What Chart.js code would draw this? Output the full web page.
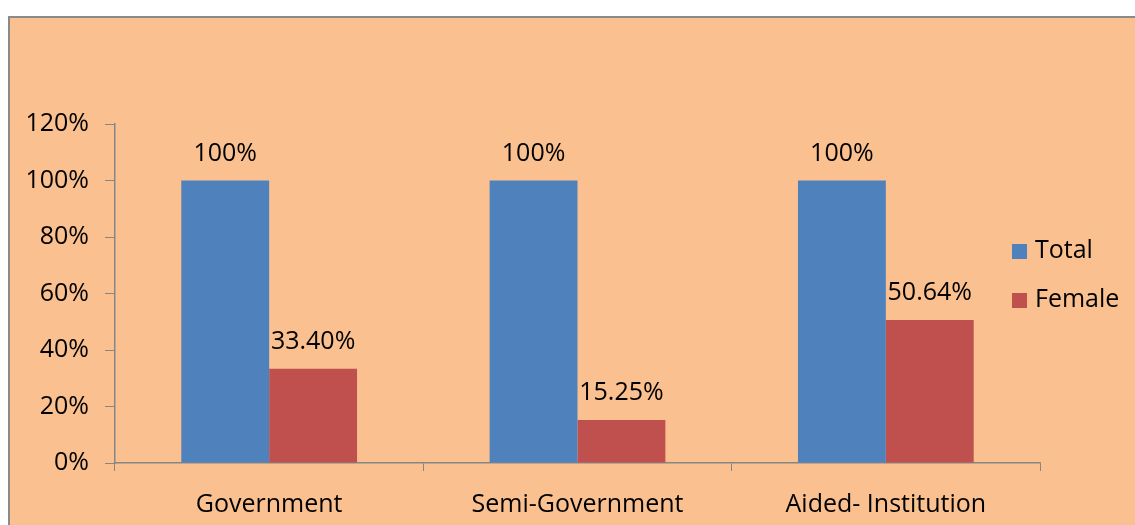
<!DOCTYPE html>
<html>
<head>
<meta charset="utf-8">
<script src="https://cdn.jsdelivr.net/npm/chart.js@4/dist/chart.umd.min.js"></script>
<style>
  body { margin: 0; background: #fff; width: 1135px; height: 525px; overflow: hidden; position: relative; }
  #frame { position: absolute; left: 8px; top: 16px; width: 1140px; height: 520px; background: #FAC090; border-left: 2px solid #8a8a8a; border-top: 2px solid #8a8a8a; }
  #wrap { position: absolute; left: 0; top: 0; width: 1135px; height: 525px; }
</style>
</head>
<body>
<div id="frame"></div>
<div id="wrap"><canvas id="chart"></canvas></div>
<script>
const categories = ['Government', 'Semi-Government', 'Aided- Institution'];
const totalValues = [100, 100, 100];
const femaleValues = [33.40, 15.25, 50.64];
const totalLabels = ['100%', '100%', '100%'];
const femaleLabels = ['33.40%', '15.25%', '50.64%'];
const yTicks = [0, 20, 40, 60, 80, 100, 120];

const FONT = '"Open Sans", sans-serif';
const FONT_SIZE = 25;
const axisColor = '#868686';
const textColor = '#000';

// value labels above each bar
const barLabels = {
    id: 'barLabels',
    afterDatasetsDraw(chart) {
        const ctx = chart.ctx;
        ctx.save();
        ctx.font = FONT_SIZE + 'px ' + FONT;
        ctx.fillStyle = textColor;
        ctx.textAlign = 'center';
        ctx.textBaseline = 'middle';
        chart.data.datasets.forEach((ds, i) => {
            chart.getDatasetMeta(i).data.forEach((bar, j) => {
                ctx.fillText(ds.valueLabels[j], bar.x, bar.y - 27);
            });
        });
        ctx.restore();
    }
};

// legend drawn over the right side like the original
const sideLegend = {
    id: 'sideLegend',
    afterDraw(chart) {
        const ctx = chart.ctx;
        ctx.save();
        ctx.font = FONT_SIZE + 'px ' + FONT;
        ctx.textBaseline = 'middle';
        chart.data.datasets.forEach((ds, i) => {
            const y = 251 + i * 49;
            ctx.fillStyle = ds.backgroundColor;
            ctx.fillRect(1012, y - 7, 15, 15);
            ctx.fillStyle = textColor;
            ctx.fillText(ds.label, 1035, y);
        });
        ctx.restore();
    }
};

new Chart(document.getElementById('chart'), {
    type: 'bar',
    data: {
        labels: categories,
        datasets: [
            { label: 'Total', data: totalValues, valueLabels: totalLabels, backgroundColor: '#4F81BD' },
            { label: 'Female', data: femaleValues, valueLabels: femaleLabels, backgroundColor: '#C0504D' }
        ]
    },
    options: {
        responsive: true,
        maintainAspectRatio: false,
        animation: false,
        layout: { padding: { left: 0, right: 95, top: 124, bottom: 0 } },
        datasets: { bar: { categoryPercentage: 0.57, barPercentage: 1.0 } },
        plugins: { legend: { display: false }, tooltip: { enabled: false } },
        scales: {
            x: {
                offset: true,
                grid: { offset: true, drawOnChartArea: false, tickLength: 8, color: axisColor },
                border: { color: axisColor, width: 1.5 },
                ticks: { font: { family: FONT, size: FONT_SIZE }, color: textColor, padding: 19 },
                afterFit(scale) { scale.height = 62; }
            },
            y: {
                min: 0, max: 120,
                afterBuildTicks(scale) { scale.ticks = yTicks.map(v => ({ value: v })); },
                grid: { drawOnChartArea: false, tickLength: 10, color: axisColor },
                border: { color: axisColor, width: 1.5 },
                ticks: { font: { family: FONT, size: FONT_SIZE }, color: textColor, padding: 16, callback: v => v + '%' },
                afterFit(scale) { scale.width = 115; }
            }
        }
    },
    plugins: [barLabels, sideLegend]
});
</script>
</body>
</html>
